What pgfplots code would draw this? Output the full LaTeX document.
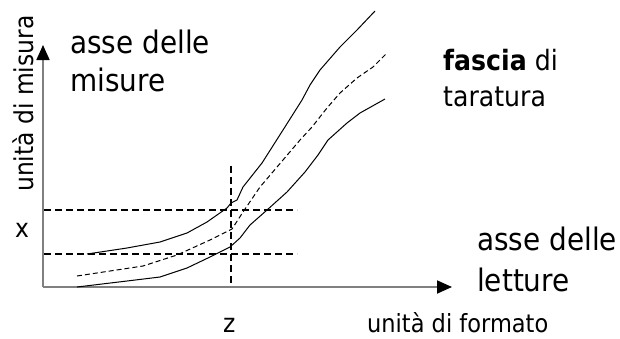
\documentclass[border=0pt]{standalone}
\usepackage{fontspec}
\setmainfont{DejaVu Sans}[FakeStretch=0.9]
\usepackage{pgfplots}
\pgfplotsset{compat=1.18}
\usetikzlibrary{arrows.meta}
\begin{document}
\begin{tikzpicture}
\begin{axis}[
  width=620pt, height=338pt, scale only axis,
  xmin=0, xmax=620, ymin=0, ymax=338, y dir=reverse,
  hide axis, clip=false,
]
\path (rel axis cs:0,0) rectangle (rel axis cs:1,1);
% axes
\addplot[gray, line width=1.8pt, -{Triangle[length=15pt,width=13pt,color=black]}] coordinates {(43,287) (452,287)};
\addplot[gray, line width=1.8pt, -{Triangle[length=15pt,width=13pt,color=black]}] coordinates {(43,287) (43,45)};
% reference dashed lines
\addplot[black, line width=2pt, dash pattern=on 7pt off 4pt] coordinates {(44,210) (297,210)};
\addplot[black, line width=2pt, dash pattern=on 7pt off 4pt] coordinates {(44,254) (297,254)};
\addplot[black, line width=2pt, dash pattern=on 7pt off 4pt] coordinates {(231,166) (231,286)};
% curves
\addplot[black, line width=1pt] coordinates {(87,254) (127,248) (160,242) (187,233) (207,222) (227,208) (231,203) (237,200) (243,187) (262,163) (283,130) (302,100) (310,85) (320,70) (340,47) (357,30) (375,11)};
\addplot[black, line width=1pt, dash pattern=on 5pt off 3pt] coordinates {(77,276) (110,271) (143,266) (177,255) (210,240) (232,229) (243,212) (260,187) (283,160) (300,140) (312,127) (327,108) (340,93) (357,78) (373,67) (387,53)};
\addplot[black, line width=1pt] coordinates {(77,287) (127,281) (160,277) (187,268) (210,257) (230,247) (240,238) (250,225) (267,210) (287,192) (305,172) (318,155) (328,140) (347,123) (360,113) (385,99)};
% texts
\node[anchor=base west, inner sep=0, font=\fontsize{31}{36}\selectfont] at (axis cs:70,53) {asse delle};
\node[anchor=base west, inner sep=0, font=\fontsize{31}{36}\selectfont] at (axis cs:70,91) {misure};
\node[anchor=base west, inner sep=0, font=\fontsize{28}{34}\selectfont] at (axis cs:443,70) {\textbf{fascia} di};
\node[anchor=base west, inner sep=0, font=\fontsize{28}{34}\selectfont] at (axis cs:443,106) {taratura};
\node[anchor=base west, inner sep=0, font=\fontsize{31}{36}\selectfont] at (axis cs:477,250) {asse delle};
\node[anchor=base west, inner sep=0, font=\fontsize{31}{36}\selectfont] at (axis cs:477,291) {letture};
\node[anchor=base west, inner sep=0, font=\fontsize{25}{30}\selectfont] at (axis cs:367,332) {unità di formato};
\node[anchor=base west, inner sep=0, rotate=90, font=\fontsize{26}{30}\selectfont] at (axis cs:33,192) {unità di misura};
\node[anchor=base west, inner sep=0, font=\fontsize{26}{30}\selectfont] at (axis cs:15,237) {x};
\node[anchor=base west, inner sep=0, font=\fontsize{26}{30}\selectfont] at (axis cs:223,332) {z};
\end{axis}
\end{tikzpicture}
\end{document}
